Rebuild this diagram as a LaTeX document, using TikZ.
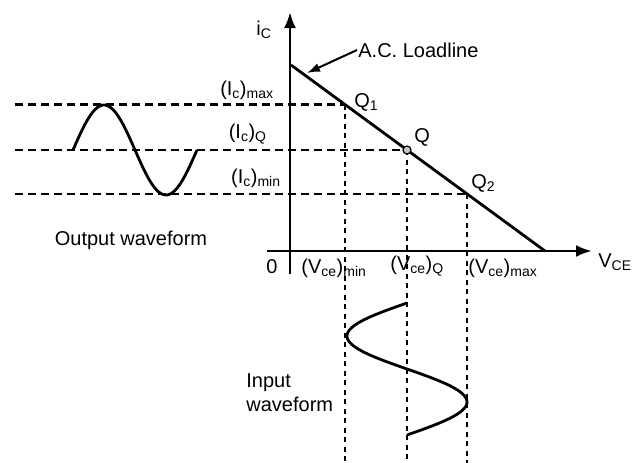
\documentclass[tikz,border=0pt]{standalone}
\usepackage{fontspec}
\setmainfont{Liberation Sans}
\usetikzlibrary{arrows.meta,positioning,calc}
\newcommand{\lsub}[1]{\textsubscript{#1}}

\begin{document}
\begin{tikzpicture}[x=1pt,y=-1pt,>=Latex,line width=2.8pt]
  \tikzset{ax/.style={->,>={Latex[length=16pt,width=12pt]}}}
  \tikzset{hd/.style={line width=2.6pt,dash pattern=on 8pt off 5pt}}
  \tikzset{vd/.style={line width=2.6pt,dash pattern=on 5pt off 4.5pt}}
  \tikzset{lab/.style={inner sep=0pt,font=\fontsize{20}{24}\selectfont}}
  \useasboundingbox (0,0) rectangle (638,463);
  % axes
  \coordinate (ybot) at (290,274);
  \coordinate (ytop) at (290,12);
  \coordinate (xl) at (267,251);
  \coordinate (xr) at (592,251);
  \draw[ax] (ybot)--(ytop);
  \draw[ax] (xl)--(xr);
  % load line and operating points
  \coordinate (la) at (291,65);
  \coordinate (lb) at (545,251);
  \draw (la)--(lb);
  \coordinate (q1) at (345,104.5);
  \coordinate (q) at (407,150);
  \coordinate (q2) at (467,194);
  \draw[hd] (15,104.5) coordinate (h1)--(q1);
  \draw[hd] (15,150) coordinate (h0)--(q);
  \draw[hd] (15,194) coordinate (h2)--(q2);
  \draw[vd] (q1)--(q1|-0,463);
  \draw[vd] (q)--(q|-0,463);
  \draw[vd] (q2)--(q2|-0,463);
  \draw[line width=1.2pt,fill=gray!45] (q) circle (4pt);
  % waveforms
  \draw plot[domain=0:1,samples=72,variable=\t] ({73+\t*124},{150-45*sin(\t*360)});
  \draw plot[domain=0:1,samples=72,variable=\t] ({407-60*sin(\t*360)},{303+\t*132});
  % labels
  \node[lab] (ic) at (264,30) {i\lsub{C}};
  \node[lab,anchor=west] (loadline) at (357,50) {A.C. Loadline};
  \draw[->,>={Latex[length=13pt,width=9pt]},line width=2pt] (loadline.west)--(307,73);
  \node[lab,anchor=east] (icmax) at (275,90) {(I\lsub{c})\lsub{max}};
  \node[lab,anchor=east] (icq) at (268,134) {(I\lsub{c})\lsub{Q}};
  \node[lab,anchor=east] (icmin) at (282,178) {(I\lsub{c})\lsub{min}};
  \node[lab,anchor=west] (lq1) at (353,102) {Q\lsub{1}};
  \node[lab,anchor=west] (lq) at (413,137) {Q};
  \node[lab,anchor=west] (lq2) at (470,183) {Q\lsub{2}};
  \node[lab] (zero) at (272,267) {0};
  \node[lab,anchor=west] (vmin) at (300,268) {(V\lsub{ce})\lsub{min}};
  \node[lab,anchor=west] (vq) at (389,266) {(V\lsub{ce})\lsub{Q}};
  \node[lab,anchor=west] (vmax) at (467,268) {(V\lsub{ce})\lsub{max}};
  \node[lab,anchor=west] (vce) at (597,262) {V\lsub{CE}};
  \node[lab] (outw) at (131,240) {Output waveform};
  \node[lab,anchor=west,align=left] (inw) at (245,393) {Input\\waveform};
\end{tikzpicture}
\end{document}
